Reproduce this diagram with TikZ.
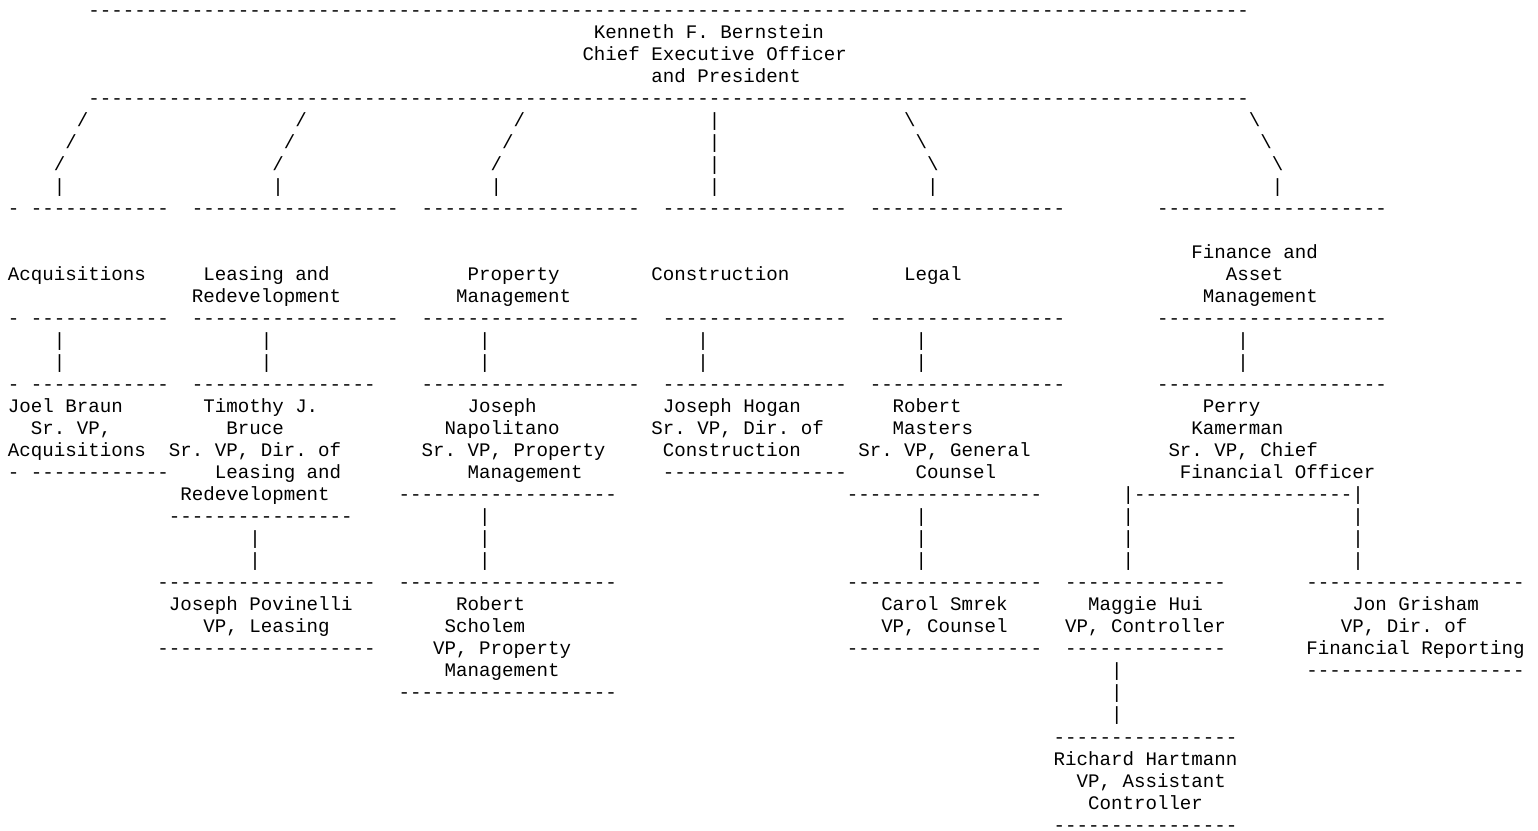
\documentclass[tikz,border=0pt]{standalone}
\usepackage{fontspec}
\setmonofont{Liberation Mono}
\newcount\dcnt
\newcommand\Dsh[1]{\dcnt=#1\relax\loop\ifnum\dcnt>0 -\advance\dcnt by -1 \repeat}
\newcommand\T[4]{\node[txt] (#1) at ({8+11.49*#2},{-(16+22.03*#3)}) {#4};}
\newcommand\BS{\textbackslash}
\tikzset{txt/.style={anchor=base west, inner sep=0pt, outer sep=0pt,
  font=\ttfamily\fontsize{19.15pt}{22pt}\selectfont\frenchspacing, text=black}}
\begin{document}
\begin{tikzpicture}[x=1pt,y=1pt]
\fill[white] (0,0) rectangle (1538,-830);
\useasboundingbox (0,0) rectangle (1538,-830);
% CEO
\T{top1}{7}{0}{\Dsh{101}}
\T{ceoa}{51}{1}{Kenneth F. Bernstein}
\T{ceob}{50}{2}{Chief Executive Officer}
\T{ceoc}{56}{3}{and President}
\T{top2}{7}{4}{\Dsh{101}}
% branches
\T{s5a}{6}{5}{/}   \T{s5b}{25}{5}{/}  \T{s5c}{44}{5}{/}  \T{s5d}{61}{5}{|}  \T{s5e}{78}{5}{\BS}  \T{s5f}{108}{5}{\BS}
\T{s6a}{5}{6}{/}   \T{s6b}{24}{6}{/}  \T{s6c}{43}{6}{/}  \T{s6d}{61}{6}{|}  \T{s6e}{79}{6}{\BS}  \T{s6f}{109}{6}{\BS}
\T{s7a}{4}{7}{/}   \T{s7b}{23}{7}{/}  \T{s7c}{42}{7}{/}  \T{s7d}{61}{7}{|}  \T{s7e}{80}{7}{\BS}  \T{s7f}{110}{7}{\BS}
\T{s8a}{4}{8}{|}   \T{s8b}{23}{8}{|}  \T{s8c}{42}{8}{|}  \T{s8d}{61}{8}{|}  \T{s8e}{80}{8}{|}    \T{s8f}{110}{8}{|}
% department boxes
\T{d9a}{0}{9}{- \Dsh{12}} \T{d9b}{16}{9}{\Dsh{18}} \T{d9c}{36}{9}{\Dsh{19}} \T{d9d}{57}{9}{\Dsh{16}} \T{d9e}{75}{9}{\Dsh{17}} \T{d9f}{100}{9}{\Dsh{20}}
\T{fin1}{103}{11}{Finance and}
\T{acq}{0}{12}{Acquisitions}
\T{lea1}{17}{12}{Leasing and}
\T{pro1}{40}{12}{Property}
\T{con}{56}{12}{Construction}
\T{leg}{78}{12}{Legal}
\T{fin2}{106}{12}{Asset}
\T{lea2}{16}{13}{Redevelopment}
\T{pro2}{39}{13}{Management}
\T{fin3}{104}{13}{Management}
\T{d14a}{0}{14}{- \Dsh{12}} \T{d14b}{16}{14}{\Dsh{18}} \T{d14c}{36}{14}{\Dsh{19}} \T{d14d}{57}{14}{\Dsh{16}} \T{d14e}{75}{14}{\Dsh{17}} \T{d14f}{100}{14}{\Dsh{20}}
\T{v15a}{4}{15}{|} \T{v15b}{22}{15}{|} \T{v15c}{41}{15}{|} \T{v15d}{60}{15}{|} \T{v15e}{79}{15}{|} \T{v15f}{107}{15}{|}
\T{v16a}{4}{16}{|} \T{v16b}{22}{16}{|} \T{v16c}{41}{16}{|} \T{v16d}{60}{16}{|} \T{v16e}{79}{16}{|} \T{v16f}{107}{16}{|}
% senior VPs
\T{d17a}{0}{17}{- \Dsh{12}} \T{d17b}{16}{17}{\Dsh{16}} \T{d17c}{36}{17}{\Dsh{19}} \T{d17d}{57}{17}{\Dsh{16}} \T{d17e}{75}{17}{\Dsh{17}} \T{d17f}{100}{17}{\Dsh{20}}
\T{jb1}{0}{18}{Joel Braun}
\T{tb1}{17}{18}{Timothy J.}
\T{jn1}{40}{18}{Joseph}
\T{jh1}{57}{18}{Joseph Hogan}
\T{rm1}{77}{18}{Robert}
\T{pk1}{104}{18}{Perry}
\T{jb2}{2}{19}{Sr. VP,}
\T{tb2}{19}{19}{Bruce}
\T{jn2}{38}{19}{Napolitano}
\T{jh2}{56}{19}{Sr. VP, Dir. of}
\T{rm2}{77}{19}{Masters}
\T{pk2}{103}{19}{Kamerman}
\T{jb3}{0}{20}{Acquisitions}
\T{tb3}{14}{20}{Sr. VP, Dir. of}
\T{jn3}{36}{20}{Sr. VP, Property}
\T{jh3}{57}{20}{Construction}
\T{rm3}{74}{20}{Sr. VP, General}
\T{pk3}{101}{20}{Sr. VP, Chief}
\T{d21a}{0}{21}{- \Dsh{12}}
\T{tb4}{18}{21}{Leasing and}
\T{jn4}{40}{21}{Management}
\T{d21d}{57}{21}{\Dsh{16}}
\T{rm4}{79}{21}{Counsel}
\T{pk4}{102}{21}{Financial Officer}
\T{tb5}{15}{22}{Redevelopment}
\T{d22c}{34}{22}{\Dsh{19}}
\T{d22e}{73}{22}{\Dsh{17}}
\T{d22f}{97}{22}{|\Dsh{19}|}
\T{d23b}{14}{23}{\Dsh{16}} \T{v23c}{41}{23}{|} \T{v23e}{79}{23}{|} \T{v23f}{97}{23}{|} \T{v23g}{117}{23}{|}
\T{v24b}{21}{24}{|} \T{v24c}{41}{24}{|} \T{v24e}{79}{24}{|} \T{v24f}{97}{24}{|} \T{v24g}{117}{24}{|}
\T{v25b}{21}{25}{|} \T{v25c}{41}{25}{|} \T{v25e}{79}{25}{|} \T{v25f}{97}{25}{|} \T{v25g}{117}{25}{|}
% VPs
\T{d26b}{13}{26}{\Dsh{19}} \T{d26c}{34}{26}{\Dsh{19}} \T{d26e}{73}{26}{\Dsh{17}} \T{d26f}{92}{26}{\Dsh{14}} \T{d26g}{113}{26}{\Dsh{19}}
\T{jp1}{14}{27}{Joseph Povinelli}
\T{rs1}{39}{27}{Robert}
\T{cs1}{76}{27}{Carol Smrek}
\T{mh1}{94}{27}{Maggie Hui}
\T{jg1}{117}{27}{Jon Grisham}
\T{jp2}{17}{28}{VP, Leasing}
\T{rs2}{38}{28}{Scholem}
\T{cs2}{76}{28}{VP, Counsel}
\T{mh2}{92}{28}{VP, Controller}
\T{jg2}{116}{28}{VP, Dir. of}
\T{d29b}{13}{29}{\Dsh{19}}
\T{rs3}{37}{29}{VP, Property}
\T{d29e}{73}{29}{\Dsh{17}}
\T{d29f}{92}{29}{\Dsh{14}}
\T{jg3}{113}{29}{Financial Reporting}
\T{rs4}{38}{30}{Management}
\T{v30f}{96}{30}{|}
\T{d30g}{113}{30}{\Dsh{19}}
\T{d31c}{34}{31}{\Dsh{19}}
\T{v31f}{96}{31}{|}
\T{v32f}{96}{32}{|}
\T{d33f}{91}{33}{\Dsh{16}}
\T{rh1}{91}{34}{Richard Hartmann}
\T{rh2}{93}{35}{VP, Assistant}
\T{rh3}{94}{36}{Controller}
\T{d37f}{91}{37}{\Dsh{16}}
\end{tikzpicture}
\end{document}
